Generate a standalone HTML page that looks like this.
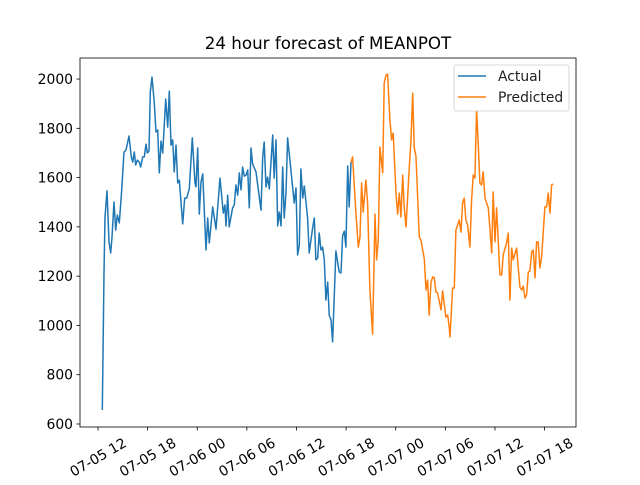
<!DOCTYPE html>
<html><head><meta charset="utf-8"><style>
body{margin:0;background:#fff;}
text{font-family:"DejaVu Sans","Liberation Sans",sans-serif;}
</style></head><body>
<svg id="chart" width="640" height="480" xmlns="http://www.w3.org/2000/svg"></svg>
<script>
const actualHours=[12.52,12.73,12.85,13.09,13.33,13.54,13.69,13.93,14.14,14.33,14.58,14.87,15.14,15.39,15.75,16.03,16.2,16.39,16.56,16.75,16.99,17.16,17.4,17.6,17.8,17.96,18.17,18.32,18.53,18.81,19.01,19.22,19.41,19.62,19.82,20.19,20.43,20.62,20.83,21.03,21.22,21.43,21.64,21.83,22.24,22.48,22.72,23.04,23.4,23.73,23.85,24.05,24.25,24.45,24.66,25.06,25.26,25.46,25.87,26.27,26.75,27.15,27.35,27.48,27.68,27.87,28.28,28.48,28.68,28.89,29.08,29.29,29.49,29.69,29.89,30.1,30.29,30.5,30.7,31.1,31.5,31.71,31.91,32.1,32.31,32.51,32.71,33.12,33.31,33.52,33.73,33.92,34.13,34.33,34.52,34.73,34.93,35.33,35.73,35.94,36.14,36.34,36.54,36.75,36.94,37.35,37.54,37.95,38.15,38.35,38.56,38.75,38.96,39.16,39.36,39.56,39.77,39.96,40.17,40.37,40.77,41.17,41.38,41.58,41.78,41.98,42.19,42.38,42.59];
const actualValues=[657,1213,1440,1546,1339,1294,1359,1501,1387,1448,1416,1550,1704,1712,1769,1684,1663,1704,1651,1671,1663,1643,1684,1684,1736,1700,1708,1947,2008,1903,1785,1793,1619,1748,1700,1919,1805,1951,1732,1753,1623,1732,1578,1590,1412,1517,1517,1554,1761,1578,1562,1720,1452,1582,1615,1306,1436,1335,1481,1391,1598,1456,1489,1404,1529,1400,1477,1489,1570,1529,1619,1550,1643,1606,1610,1631,1477,1720,1655,1623,1521,1468,1684,1744,1562,1602,1554,1773,1598,1753,1404,1460,1404,1643,1436,1537,1761,1631,1497,1558,1286,1326,1635,1517,1566,1436,1294,1395,1436,1266,1274,1375,1306,1318,1266,1103,1176,1042,1022,933,1302,1217,1213,1363,1383,1318,1647,1481,1663];
const predHours=[42.59,42.79,43.19,43.47,43.68,43.88,44.07,44.4,44.6,44.88,45.21,45.49,45.69,45.89,46.09,46.42,46.61,46.82,47.02,47.3,47.5,47.7,48.03,48.23,48.43,48.63,48.84,49.03,49.24,49.64,49.84,50.05,50.24,50.45,50.85,51.05,51.45,51.66,51.86,52.05,52.26,52.47,52.66,52.86,53.07,53.47,53.67,54.07,54.28,54.47,54.56,54.88,55.08,55.28,55.68,55.89,56.09,56.28,56.49,56.69,56.97,57.18,57.37,57.58,57.78,57.98,58.18,58.39,58.58,58.79,58.99,59.19,59.39,59.6,59.79,60.0,60.2,60.6,60.81,61.0,61.41,61.61,61.81,62.02,62.21,62.62,63.02,63.23,63.42,63.63,63.83,64.03,64.23,64.44,64.63,64.84,65.04,65.23,65.44,65.64,66.04,66.25,66.44,66.65,66.85,67.04];
const predValues=[1663,1684,1456,1318,1359,1578,1460,1590,1497,1144,965,1452,1266,1347,1724,1619,1984,2016,2020,1834,1753,1781,1537,1452,1537,1440,1610,1481,1400,1643,1744,1943,1724,1684,1359,1347,1270,1144,1184,1042,1176,1197,1193,1136,1132,1063,1140,1034,1042,994,953,1152,1152,1387,1428,1379,1497,1517,1428,1408,1318,1509,1610,1598,1874,1732,1578,1570,1623,1517,1497,1477,1395,1294,1542,1339,1477,1205,1205,1286,1335,1375,1103,1314,1266,1314,1156,1144,1160,1111,1124,1217,1221,1298,1306,1193,1339,1339,1233,1278,1481,1481,1537,1456,1570,1574];
const yTicks=[600,800,1000,1200,1400,1600,1800,2000];
const xTickHours=[12,18,24,30,36,42,48,54,60,66];
const xTickLabels=["07-05 12","07-05 18","07-06 00","07-06 06","07-06 12","07-06 18","07-07 00","07-07 06","07-07 12","07-07 18"];

const svg=document.getElementById('chart');
const NS='http://www.w3.org/2000/svg';
const L=80,R=576,T=58,B=427;
const xs=h=>98+(h-12)*8.27;
const ys=v=>424-(v-600)*0.2464;
function mk(tag,attrs,parent){const e=document.createElementNS(NS,tag);for(const k in attrs)e.setAttribute(k,attrs[k]);(parent||svg).appendChild(e);return e;}

const frame=mk('rect',{x:L,y:T,width:R-L,height:B-T,fill:'none',stroke:'#000','stroke-width':0.8});



yTicks.forEach(v=>{
  const y=ys(v);
  const tk=mk('line',{x1:L-3.5,x2:L,y1:y,y2:y,stroke:'#000','stroke-width':0.8});
  
  
  const t=mk('text',{x:L-7,y:y+5,'text-anchor':'end','font-size':13.9});
  t.textContent=v;
  
  
});
xTickHours.forEach((h,i)=>{
  const x=xs(h);
  const tk=mk('line',{x1:x,x2:x,y1:B,y2:B+3.5,stroke:'#000','stroke-width':0.8});
  
  
  const cy=457;
  const t=mk('text',{x:x,y:cy+5,'text-anchor':'middle','font-size':13.9,transform:`rotate(-30 ${x} ${cy})`});
  t.textContent=xTickLabels[i];
  
  
});

function series(hs,vs,color,name){
  const d=hs.map((h,i)=>(i?'L':'M')+xs(h).toFixed(1)+' '+ys(vs[i]).toFixed(1)).join(' ');
  const p=mk('path',{d:d,fill:'none',stroke:color,'stroke-width':1.5,'stroke-linejoin':'round'});
  
  
}
series(actualHours,actualValues,'#1f77b4','actual-line');
series(predHours,predValues,'#ff7f0e','predicted-line');

const title=mk('text',{x:328,y:49,'text-anchor':'middle','font-size':16.7});
title.textContent='24 hour forecast of MEANPOT';



const lg=mk('g',{});


mk('rect',{x:454,y:65,width:115,height:46,rx:2,fill:'#fff',stroke:'#ccc','stroke-width':0.8},lg);
[['Actual','#1f77b4',76],['Predicted','#ff7f0e',97]].forEach(([n,c,y])=>{
  const ln=mk('line',{x1:458,x2:486,y1:y,y2:y,stroke:c,'stroke-width':1.5},lg);
  
  
  const t=mk('text',{x:498,y:y+5,'font-size':13.9,fill:'#222'},lg);
  t.textContent=n;
  
  
});
</script>
</body></html>
